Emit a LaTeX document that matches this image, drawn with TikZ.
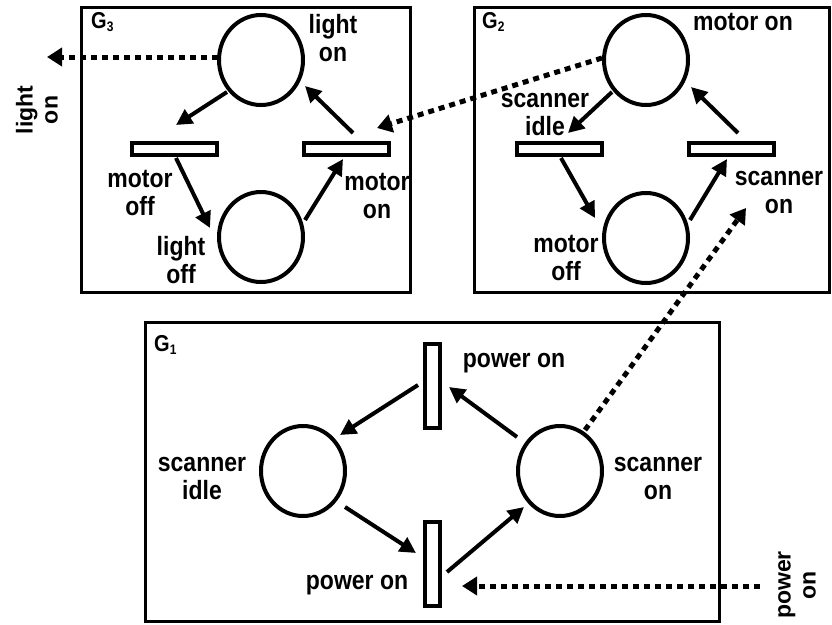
\documentclass[tikz,border=0pt]{standalone}
\usepackage{fontspec}
\setmainfont{Liberation Sans}
\usetikzlibrary{shapes.geometric,arrows.meta,calc}
\newcommand\tallt[1]{\scalebox{1}[1.15]{#1}}
\begin{document}
\begin{tikzpicture}[x=1pt,y=-1pt,
  graphbox/.style={draw,line width=3pt,inner sep=0pt,outer sep=0pt,anchor=north west},
  place/.style={draw,ellipse,line width=4pt,minimum width=84pt,minimum height=90pt,inner sep=0pt,outer sep=0pt},
  htrans/.style={draw,rectangle,line width=4pt,minimum width=85pt,minimum height=12pt,inner sep=0pt,outer sep=0pt},
  vtrans/.style={draw,rectangle,line width=4pt,minimum width=15pt,minimum height=84pt,inner sep=0pt,outer sep=0pt},
  flow/.style={line width=4pt,-{Triangle[length=16pt,width=16pt]}},
  ext/.style={line width=5pt,dash pattern=on 6pt off 5pt,-{Triangle[length=15pt,width=18pt]}},
  lbl/.style={font=\fontsize{23}{28}\selectfont\bfseries,align=center,inner sep=0pt},
  rlbl/.style={font=\fontsize{23}{25}\selectfont\bfseries,align=center,inner sep=0pt,rotate=90},
  glbl/.style={font=\fontsize{20}{20}\selectfont\bfseries,inner sep=0pt,anchor=base west}
]
\useasboundingbox (0,0) rectangle (832,624);

% ---------- G3 ----------
\node[graphbox,minimum width=328.5pt,minimum height=284.5pt] (box3) at (81.5,7.5) {};
\node[glbl] (g3) at (91,28) {\tallt{G\raisebox{-3pt}{\fontsize{12}{12}\selectfont 3}}};
\node[place] (p3top) at (261,60) {};
\node[place] (p3bot) at (261,237) {};
\node[htrans] (t3l) at (174,149) {};
\node[htrans] (t3r) at (346,149) {};
\node[lbl] (l3a) at (333,38) {\tallt{light}\\\tallt{on}};
\node[lbl] (l3b) at (140,193) {\tallt{motor}\\\tallt{off}};
\node[lbl] (l3c) at (181,260) {\tallt{light}\\\tallt{off}};
\node[lbl] (l3d) at (377,196) {\tallt{motor}\\\tallt{on}};
\draw[flow] ($(p3top)+(-34,32)$) -- ($(t3l)+(2,-24)$);
\draw[flow] ($(t3l)+(2,9)$) -- ($(p3bot)+(-51,-9)$);
\draw[flow] ($(p3bot)+(44,-17)$) -- ($(t3r)+(-3,10)$);
\draw[flow] ($(t3r)+(7,-16)$) -- ($(p3top)+(44,26)$);

% ---------- G2 ----------
\node[graphbox,minimum width=355pt,minimum height=284.5pt] (box2) at (474.5,7.5) {};
\node[glbl] (g2) at (482,28) {\tallt{G\raisebox{-3pt}{\fontsize{12}{12}\selectfont 2}}};
\node[place] (p2top) at (646,60) {};
\node[place] (p2bot) at (646,238) {};
\node[htrans] (t2l) at (559,149) {};
\node[htrans] (t2r) at (731,149) {};
\node[lbl] (l2a) at (743,22) {\tallt{motor on}};
\node[lbl] (l2b) at (545,115) {\tallt{scanner}\\\tallt{idle}};
\node[lbl] (l2c) at (779,193) {\tallt{scanner}\\\tallt{on}};
\node[lbl] (l2d) at (566,258) {\tallt{motor}\\\tallt{off}};
\draw[flow] ($(p2top)+(-34,32)$) -- ($(t2l)+(9,-16)$);
\draw[flow] ($(t2l)+(2,9)$) -- ($(p2bot)+(-51,-20)$);
\draw[flow] ($(p2bot)+(44,-18)$) -- ($(t2r)+(-4,10)$);
\draw[flow] ($(t2r)+(7,-16)$) -- ($(p2top)+(45,27)$);

% ---------- G1 ----------
\node[graphbox,minimum width=574pt,minimum height=299pt] (box1) at (145,322) {};
\node[glbl] (g1) at (154,351) {\tallt{G\raisebox{-3pt}{\fontsize{12}{12}\selectfont 1}}};
\node[place] (p1l) at (303,471) {};
\node[place] (p1r) at (560,471) {};
\node[vtrans] (t1top) at (432,386) {};
\node[vtrans] (t1bot) at (432,564) {};
\node[lbl] (l1a) at (514,363) {\tallt{power on}};
\node[lbl] (l1b) at (202,478) {\tallt{scanner}\\\tallt{idle}};
\node[lbl] (l1c) at (658,478) {\tallt{scanner}\\\tallt{on}};
\node[lbl] (l1d) at (357,585) {\tallt{power on}};
\draw[flow] ($(t1top)+(-14,-1)$) -- ($(p1l)+(37,-36)$);
\draw[flow] ($(p1r)+(-43,-34)$) -- ($(t1top)+(17,1)$);
\draw[flow] ($(p1l)+(42,36)$) -- ($(t1bot)+(-16,-11)$);
\draw[flow] ($(t1bot)+(15,8)$) -- ($(p1r)+(-36,36)$);

% ---------- external connections ----------
\coordinate (lightout) at (47,57);
\coordinate (scanin) at (746,208);
\coordinate (powersrc) at (760,586);
\node[rlbl] (lout) at (37,110) {light\\on};
\node[rlbl] (pin) at (797,585) {power\\on};
\draw[ext] ($(p3top)+(-43,-3)$) -- (lightout);
\draw[ext] ($(p2top)+(-44,-2)$) -- ($(t3r)+(31,-21)$);
\draw[ext] ($(p1r)+(25,-41)$) -- (scanin);
\draw[ext] (powersrc) -- ($(t1bot)+(30,22)$);
\end{tikzpicture}
\end{document}
